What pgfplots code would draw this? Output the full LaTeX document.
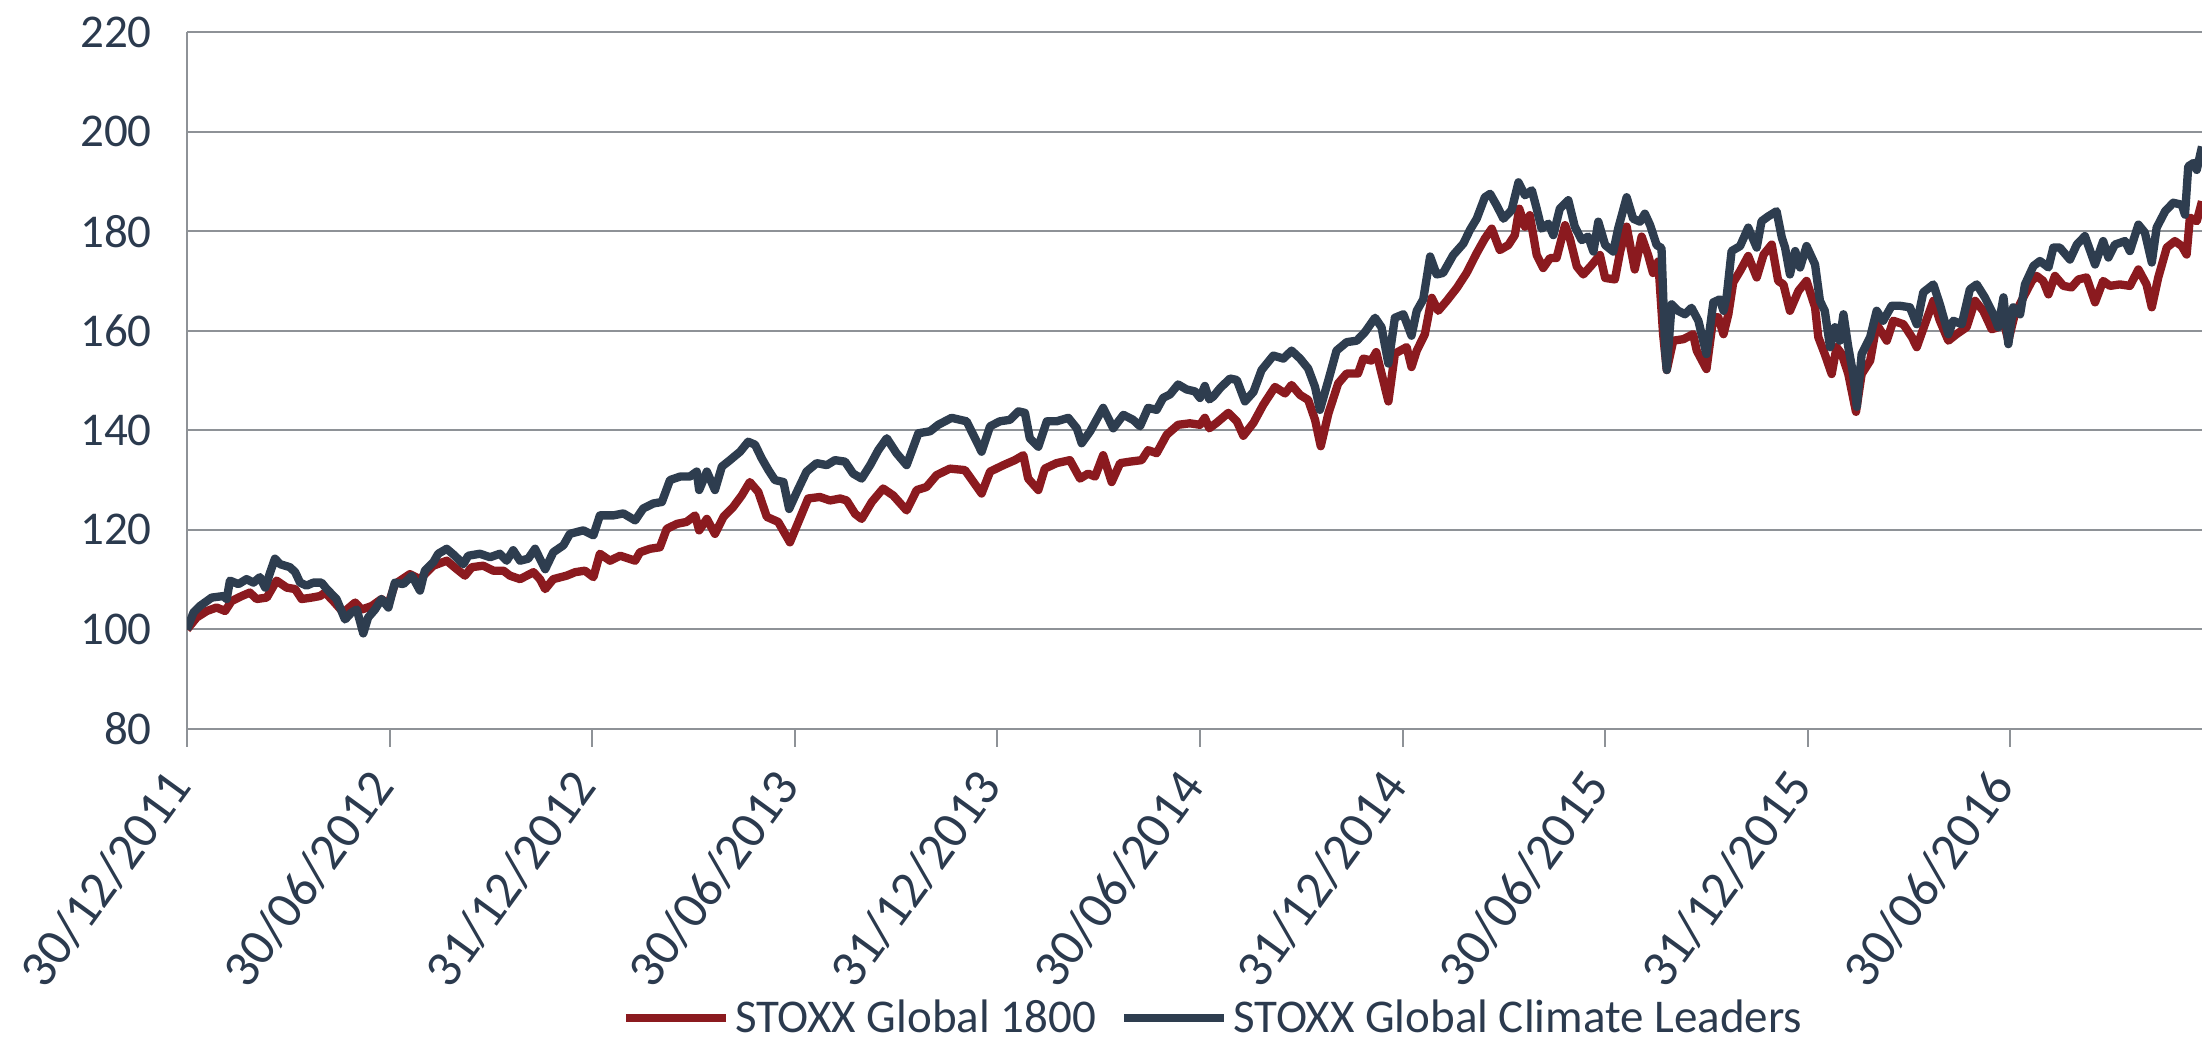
\documentclass[border=0pt]{standalone}
\usepackage{pgfplots}
\pgfplotsset{compat=1.18}
\usepackage{pgfplotstable}
\usepackage{fontspec}
\setmainfont{Carlito}
\definecolor{redline}{HTML}{8B1A1F}
\definecolor{darkline}{HTML}{2E3D4F}
\definecolor{gridc}{HTML}{8E9297}
\definecolor{txt}{HTML}{2B3A4E}

\pgfplotstableread{
t v
0.000 100.0
0.024 102.4
0.049 103.7
0.073 104.4
0.094 103.7
0.110 105.7
0.135 106.7
0.155 107.4
0.172 106.1
0.197 106.4
0.221 109.8
0.246 108.4
0.267 108.1
0.283 106.1
0.308 106.4
0.328 106.7
0.341 107.4
0.361 105.7
0.386 103.4
0.415 105.4
0.431 104.0
0.456 104.7
0.480 106.1
0.497 105.0
0.513 109.1
0.550 111.1
0.575 110.1
0.608 112.8
0.641 113.8
0.666 112.1
0.686 110.8
0.703 112.5
0.731 112.8
0.756 111.8
0.781 111.8
0.797 110.8
0.822 110.1
0.855 111.5
0.871 110.1
0.884 108.1
0.904 110.1
0.937 110.8
0.958 111.5
0.982 111.8
1.003 110.5
1.019 115.2
1.044 113.8
1.069 114.8
1.106 113.8
1.118 115.5
1.143 116.2
1.167 116.5
1.184 120.2
1.209 121.2
1.233 121.6
1.254 122.9
1.264 119.9
1.283 122.2
1.303 119.2
1.324 122.6
1.348 124.6
1.369 126.9
1.389 129.6
1.410 127.6
1.431 122.6
1.459 121.6
1.488 117.5
1.509 121.6
1.533 126.3
1.562 126.6
1.587 125.9
1.612 126.3
1.628 125.9
1.649 123.2
1.665 122.2
1.690 125.6
1.718 128.3
1.743 126.9
1.776 123.9
1.801 128.0
1.825 128.6
1.850 131.0
1.883 132.3
1.920 132.0
1.941 129.6
1.961 127.3
1.982 131.7
2.015 133.0
2.043 134.0
2.064 135.0
2.076 130.3
2.101 128.0
2.117 132.3
2.146 133.4
2.179 134.0
2.204 130.3
2.224 131.3
2.241 130.7
2.261 135.0
2.282 129.6
2.303 133.4
2.327 133.7
2.356 134.0
2.372 136.0
2.393 135.4
2.418 139.1
2.446 141.1
2.475 141.4
2.500 141.1
2.512 142.5
2.523 140.4
2.541 141.5
2.570 143.5
2.591 141.8
2.607 138.9
2.632 141.5
2.656 145.1
2.685 148.7
2.710 147.4
2.726 149.1
2.747 147.1
2.767 146.1
2.784 142.1
2.798 136.8
2.817 143.4
2.841 149.4
2.862 151.4
2.890 151.4
2.903 154.4
2.923 154.0
2.935 155.7
2.952 150.1
2.965 145.8
2.981 155.4
3.010 156.7
3.022 152.7
3.035 156.0
3.055 159.3
3.072 166.6
3.088 164.0
3.109 166.0
3.134 168.6
3.158 171.6
3.183 175.6
3.203 178.5
3.220 180.5
3.240 176.2
3.261 177.2
3.277 179.2
3.288 184.5
3.302 180.9
3.314 183.2
3.331 175.2
3.347 172.6
3.364 174.6
3.380 174.6
3.401 181.2
3.413 178.5
3.430 172.9
3.446 171.3
3.467 173.2
3.487 175.2
3.500 170.6
3.524 170.3
3.537 175.9
3.553 180.9
3.573 172.3
3.590 178.9
3.606 175.2
3.618 171.6
3.631 173.9
3.643 159.3
3.652 152.1
3.668 158.0
3.693 158.3
3.717 159.3
3.726 156.0
3.750 152.3
3.767 162.7
3.779 162.7
3.792 159.3
3.804 163.3
3.816 169.7
3.833 172.0
3.853 175.0
3.874 170.7
3.891 175.3
3.911 177.3
3.927 170.0
3.940 169.3
3.956 164.0
3.977 168.0
3.997 170.0
4.018 164.7
4.026 158.7
4.042 155.3
4.059 151.3
4.071 156.7
4.084 155.3
4.100 151.3
4.119 143.7
4.133 151.3
4.154 154.0
4.170 161.3
4.195 158.0
4.211 162.0
4.236 161.3
4.257 158.7
4.269 156.7
4.289 161.3
4.310 166.0
4.326 162.0
4.347 158.0
4.367 159.3
4.392 160.7
4.413 166.0
4.433 164.0
4.454 160.3
4.470 160.7
4.483 162.0
4.495 158.0
4.511 163.3
4.532 166.7
4.553 170.0
4.565 171.0
4.581 170.0
4.594 167.3
4.610 171.0
4.631 169.0
4.651 168.7
4.668 170.3
4.688 170.7
4.709 165.7
4.729 170.0
4.746 169.0
4.770 169.3
4.795 169.0
4.816 172.3
4.836 169.3
4.849 164.7
4.865 170.7
4.886 176.7
4.906 178.0
4.923 177.0
4.935 175.3
4.943 182.7
4.960 182.0
4.973 186.0
}\globalTable

\pgfplotstableread{
t v
0.000 100.0
0.016 103.4
0.032 104.7
0.061 106.4
0.090 106.7
0.098 106.1
0.106 109.8
0.127 109.1
0.147 110.1
0.164 109.4
0.180 110.5
0.193 108.4
0.205 111.4
0.217 114.2
0.230 113.1
0.254 112.5
0.267 111.5
0.279 109.4
0.295 108.8
0.312 109.4
0.332 109.4
0.345 108.1
0.369 106.1
0.390 102.0
0.406 103.4
0.419 104.0
0.435 99.2
0.447 102.4
0.464 104.0
0.480 106.1
0.497 104.4
0.513 109.4
0.534 109.1
0.555 110.8
0.575 107.8
0.587 111.8
0.608 113.5
0.620 115.2
0.641 116.2
0.661 114.8
0.682 113.1
0.694 114.8
0.723 115.2
0.748 114.5
0.772 115.2
0.789 113.8
0.805 115.9
0.822 113.8
0.842 114.2
0.859 116.2
0.871 114.2
0.884 112.1
0.904 115.5
0.929 116.9
0.945 119.2
0.978 119.9
1.003 118.9
1.019 122.9
1.052 122.9
1.077 123.3
1.106 121.9
1.126 124.3
1.151 125.3
1.172 125.6
1.192 130.0
1.217 130.7
1.241 130.7
1.258 131.7
1.264 128.0
1.283 131.7
1.303 128.0
1.320 132.7
1.340 134.0
1.365 135.7
1.385 137.7
1.402 137.1
1.418 134.4
1.435 132.0
1.451 130.0
1.472 129.6
1.486 124.2
1.505 127.6
1.529 131.7
1.554 133.4
1.579 133.0
1.599 134.0
1.624 133.7
1.644 131.3
1.665 130.3
1.686 133.0
1.706 136.0
1.727 138.4
1.751 135.4
1.776 133.0
1.805 139.4
1.834 139.8
1.854 141.1
1.887 142.5
1.924 141.8
1.949 137.7
1.961 135.7
1.982 140.8
2.006 141.8
2.031 142.1
2.052 143.8
2.068 143.5
2.080 138.4
2.101 136.7
2.122 141.8
2.146 141.8
2.175 142.5
2.196 140.4
2.208 137.4
2.229 139.8
2.261 144.5
2.286 140.4
2.311 143.1
2.335 142.1
2.352 140.8
2.372 144.5
2.393 144.1
2.409 146.5
2.426 147.2
2.446 149.2
2.467 148.2
2.488 147.8
2.500 146.5
2.512 148.9
2.523 146.2
2.533 146.8
2.549 148.4
2.574 150.4
2.591 150.1
2.611 145.8
2.632 147.7
2.652 152.1
2.681 155.0
2.706 154.4
2.726 156.0
2.747 154.4
2.767 152.4
2.784 148.7
2.796 144.1
2.817 150.1
2.837 156.0
2.862 157.7
2.887 158.0
2.907 159.7
2.932 162.6
2.948 160.7
2.965 153.4
2.981 162.6
3.002 163.3
3.022 159.0
3.035 164.0
3.051 166.3
3.068 174.9
3.084 171.3
3.100 171.6
3.125 175.2
3.150 177.5
3.166 180.2
3.183 182.5
3.203 186.8
3.216 187.5
3.232 185.2
3.249 182.5
3.269 184.2
3.286 189.8
3.302 187.2
3.319 188.2
3.331 184.5
3.343 180.5
3.360 181.5
3.372 179.2
3.388 184.5
3.409 186.2
3.425 180.9
3.442 178.2
3.458 178.9
3.471 175.9
3.483 181.9
3.500 177.2
3.520 175.9
3.532 180.5
3.553 186.8
3.569 182.5
3.586 181.9
3.598 183.5
3.611 181.2
3.627 177.2
3.639 176.6
3.648 156.0
3.652 152.1
3.664 165.3
3.680 164.0
3.697 163.3
3.713 164.6
3.730 162.0
3.750 155.3
3.767 165.7
3.783 166.3
3.792 164.0
3.800 167.0
3.812 176.0
3.833 177.0
3.853 180.7
3.874 176.7
3.886 182.0
3.903 183.0
3.923 184.0
3.936 178.7
3.944 176.7
3.956 171.3
3.969 176.0
3.981 172.7
3.997 177.0
4.018 173.3
4.030 166.0
4.042 164.0
4.055 156.7
4.067 160.7
4.079 158.0
4.088 163.3
4.100 156.7
4.112 151.3
4.121 144.7
4.133 155.3
4.154 158.7
4.170 164.0
4.186 162.0
4.207 165.0
4.228 165.0
4.252 164.7
4.269 161.3
4.285 167.7
4.310 169.3
4.326 165.3
4.347 159.3
4.359 162.0
4.380 161.3
4.400 168.3
4.417 169.3
4.437 166.7
4.458 163.3
4.470 160.7
4.483 166.7
4.495 157.3
4.507 164.7
4.524 163.3
4.536 169.3
4.557 173.0
4.573 174.0
4.594 172.7
4.606 176.7
4.622 176.7
4.647 174.3
4.664 177.3
4.684 179.0
4.709 173.3
4.729 178.0
4.742 174.7
4.758 177.3
4.783 178.0
4.795 176.0
4.816 181.3
4.832 179.7
4.849 173.7
4.861 180.7
4.882 184.0
4.902 185.7
4.923 185.3
4.931 183.3
4.939 193.0
4.952 193.7
4.960 192.3
4.973 197.0
}\climateTable

\begin{document}
\begin{tikzpicture}
\useasboundingbox (0,0) rectangle (660.6pt,312.6pt);
\begin{axis}[
  at={(56.1pt,93.9pt)}, anchor=south west,
  scale only axis, width=604.5pt, height=209.1pt,
  xmin=0, xmax=4.973, ymin=80, ymax=220,
  ytick={80,100,120,140,160,180,200,220},
  xtick={0,0.5,1,1.5,2,2.5,3,3.5,4,4.5},
  xticklabels={30/12/2011,30/06/2012,31/12/2012,30/06/2013,31/12/2013,30/06/2014,31/12/2014,30/06/2015,31/12/2015,30/06/2016},
  axis x line*=bottom, axis y line*=left,
  axis line style={gridc, line width=0.6pt},
  ymajorgrids, grid style={gridc, line width=0.6pt},
  tick align=outside, major tick length=5.4pt,
  xtick style={gridc, line width=0.6pt},
  ytick style={draw=none},
  /pgf/number format/assume math mode=true,
  tick label style={font=\fontsize{14.1}{16}\selectfont, text=txt},
  yticklabel style={inner sep=0pt, xshift=-5pt},
  xticklabel style={font=\fontsize{15.6}{17}\selectfont, xshift=-7pt, yshift=-5.4pt, rotate=54, anchor=north east, inner sep=0pt},
  legend style={draw=none, fill=none, at={(0.5087,-0.415)}, anchor=center,
    font=\fontsize{14.1}{16}\selectfont, text=txt,
    /tikz/every even column/.append style={column sep=7.2pt},
    nodes={inner sep=0pt}},
  legend columns=-1,
  legend image code/.code={\draw[#1] (0pt,0pt) -- (30pt,0pt);},
  every axis plot/.append style={line join=round},
]
\addplot[redline, line width=2.5pt] table[x=t, y=v] {\globalTable};
\addlegendentry{\hspace{1.5pt}STOXX Global 1800}
\addplot[darkline, line width=2.5pt] table[x=t, y=v] {\climateTable};
\addlegendentry{\hspace{1.5pt}STOXX Global Climate Leaders}
\end{axis}
\end{tikzpicture}
\end{document}
